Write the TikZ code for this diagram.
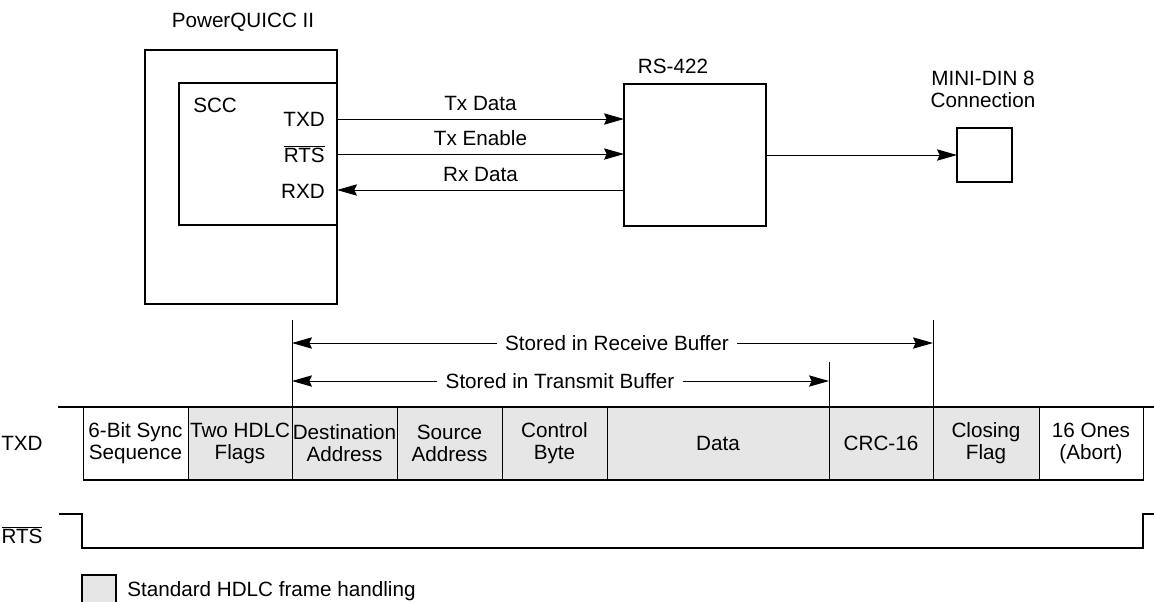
\documentclass[tikz,border=0pt]{standalone}
\usepackage{fontspec}
\setmainfont{Liberation Sans}
\usetikzlibrary{arrows.meta}
\definecolor{hdlcgrey}{RGB}{230,230,230}
\tikzset{
  every node/.style={font=\fontsize{15.5}{16.5}\selectfont},
  blk/.style={draw, line width=1.5pt, inner sep=0pt, outer sep=0pt},
  cellbox/.style={draw, line width=0.75pt, inner sep=0pt, outer sep=0pt, align=center, minimum height=54.75pt},
  arr/.style={line width=0.75pt, -{Stealth[length=15pt,width=8.5pt,inset=2pt]}},
  lbl/.style={inner sep=0pt},
}
\newcommand{\boxnode}[5]{\node[blk, minimum width={(#4-#2)*0.75pt}, minimum height={(#5-#3)*0.75pt}] (#1) at ({(#2+#4)/2},{(#3+#5)/2}) {};}
\newcommand{\hcell}[5]{\node[cellbox, fill=#4, minimum width={(#3-#2)*0.75pt}, anchor=west] (#1) at (#2,443.5) {#5};}
\begin{document}
\begin{tikzpicture}[x=0.75pt,y=-0.75pt]
\useasboundingbox (0,0) rectangle (1154,601);
% PowerQUICC
\boxnode{pq}{145}{50}{337}{304}
\node[lbl] (pqlbl) at (243,22) {PowerQUICC II};
\boxnode{scc}{179}{83}{337}{225}
\node[lbl, anchor=north west] (scclbl) at (193,98) {SCC};
\node[lbl, anchor=east] (txdpin) at (325,119) {TXD};
\node[lbl, anchor=east] (rtspin) at (325,154) {$\overline{\mbox{RTS}}$};
\node[lbl, anchor=east] (rxdpin) at (325,191) {RXD};
% RS-422
\boxnode{rs}{624}{84}{766}{226}
\node[lbl] (rslbl) at (673,66) {RS-422};
% mini din
\boxnode{mini}{957}{128}{1012}{182}
\node[lbl, align=center] (minilbl) at (983,89) {MINI-DIN 8\\Connection};
% connectors
\draw[arr] (scc.east |- 0,119) -- node[lbl, above=6pt] (txl) {Tx Data} (rs.west |- 0,119);
\draw[arr] (scc.east |- 0,154) -- node[lbl, above=6pt] (tel) {Tx Enable} (rs.west |- 0,154);
\draw[arr] (rs.west |- 0,190) -- node[lbl, above=6pt] (rxl) {Rx Data} (scc.east |- 0,190);
\draw[arr] (rs.east) -- (mini.west);
% frame cells
\hcell{c1}{83}{188}{white}{6-Bit Sync\\Sequence}
\hcell{c2}{188}{292}{hdlcgrey}{Two HDLC\\Flags}
\hcell{c3}{292}{397}{hdlcgrey}{Destination\\Address}
\hcell{c4}{397}{502}{hdlcgrey}{Source\\Address}
\hcell{c5}{502}{607}{hdlcgrey}{Control\\Byte}
\hcell{c6}{607}{829}{hdlcgrey}{Data}
\hcell{c7}{829}{933}{hdlcgrey}{CRC-16}
\hcell{c8}{933}{1039}{hdlcgrey}{Closing\\Flag}
\hcell{c9}{1039}{1143}{white}{16 Ones\\(Abort)}
\coordinate (topl) at (58,407);
\coordinate (topr) at (1154,407);
\draw[line width=1.5pt] (topl) -- (topr);
\draw[line width=1.5pt] (c1.south west) -- (c9.south east);
\node[lbl] (txdlbl) at (22,443) {TXD};
% buffers
\coordinate (rbtop) at (292,320);
\coordinate (rbtopr) at (933,320);
\coordinate (tbtopr) at (829,362);
\draw[line width=0.5pt] (rbtop) -- (c3.north west);
\draw[line width=0.5pt] (rbtopr) -- (c8.north west);
\draw[line width=0.5pt] (tbtopr) -- (c7.north west);
\node[lbl, fill=white, inner xsep=6pt] (rb) at (617,343) {Stored in Receive Buffer};
\node[lbl, fill=white, inner xsep=6pt] (tb) at (560,381) {Stored in Transmit Buffer};
\draw[arr] (rb.west) -- (rbtop |- rb.west);
\draw[arr] (rb.east) -- (rbtopr |- rb.east);
\draw[arr] (tb.west) -- (rbtop |- tb.west);
\draw[arr] (tb.east) -- (tbtopr |- tb.east);
% RTS
\node[lbl] (rtslbl) at (22,535) {$\overline{\mbox{RTS}}$};
\coordinate (r0) at (59,514);
\coordinate (r1) at (82,514);
\coordinate (r2) at (82,548);
\coordinate (r3) at (1143,548);
\coordinate (r4) at (1143,514);
\coordinate (r5) at (1154,514);
\draw[line width=1.5pt] (r0) -- (r1) -- (r2) -- (r3) -- (r4) -- (r5);
% legend
\boxnode{leg}{82}{575}{116}{603}
\node[blk, fill=hdlcgrey, draw=none, minimum width=24pt, minimum height=19pt] at (leg) {};
\draw[line width=1.5pt] (leg.south west) -- (leg.north west) -- (leg.north east) -- (leg.south east);
\node[lbl, anchor=west] (legtxt) at (127,591) {Standard HDLC frame handling};
\end{tikzpicture}
\end{document}
